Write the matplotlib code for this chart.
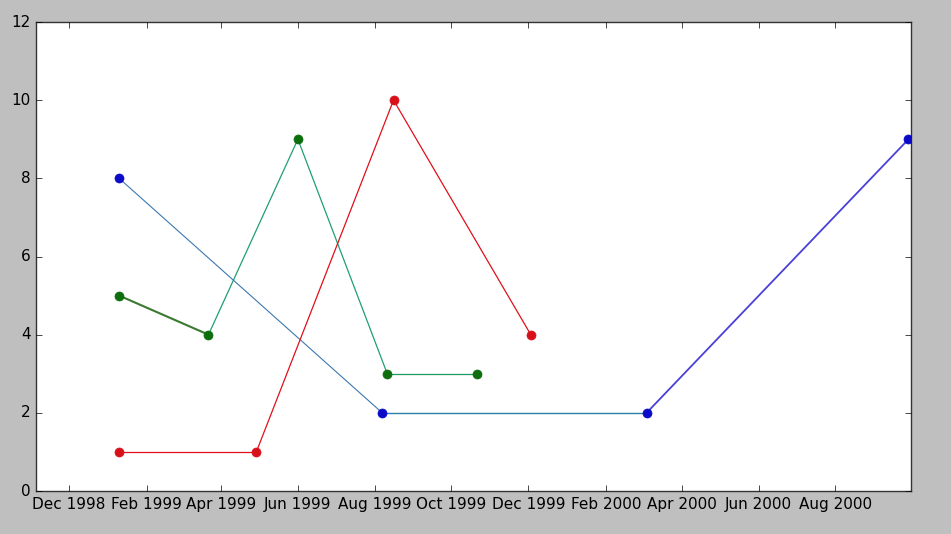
import matplotlib
matplotlib.use("Agg")
import matplotlib.pyplot as plt
import matplotlib.dates as mdates
import numpy as np

plt.style.use("classic")
plt.rcParams["font.family"] = ["DejaVu Sans"]

blue_dates = ["1999-01-10", "1999-08-07", "2000-03-04", "2000-09-28"]
blue_vals = [8, 2, 2, 9]
green_dates = ["1999-01-10", "1999-03-22", "1999-06-01", "1999-08-11", "1999-10-21"]
green_vals = [5, 4, 9, 3, 3]
red_dates = ["1999-01-10", "1999-04-29", "1999-08-16", "1999-12-03"]
red_vals = [1, 1, 10, 4]

series = [
    (blue_dates, blue_vals, "#0a0ac8", [("#3c78b0", 0.8), ("#2a7fa8", 1.0), ("#4a40d8", 1.3)]),
    (green_dates, green_vals, "#0c6e0c", [("#3a7a30", 1.5), ("#1fa070", 0.9), ("#1fa070", 0.9), ("#1f9a60", 0.9)]),
    (red_dates, red_vals, "#d8101a", [("#e0101a", 0.9)] * 3),
]

fig = plt.figure(figsize=(9.51, 5.34), dpi=100, facecolor="#bfbfbf")
ax = fig.add_axes([36 / 951, 43 / 534, 875 / 951, 469 / 534])

for dates, vals, mcol, segs in series:
    d = np.array(dates, dtype="datetime64[D]").astype("O")
    for i, (c, lw) in enumerate(segs):
        ax.plot(d[i:i + 2], vals[i:i + 2], color=c, lw=lw, zorder=2)
    ax.plot(d, vals, linestyle="none", marker="o", color=mcol, markersize=6.5,
            markeredgecolor=mcol, markeredgewidth=0.5, zorder=3)

ax.set_xlim(np.datetime64("1998-11-05").astype("O"), np.datetime64("2000-09-30").astype("O"))
ax.set_ylim(0, 12)
ax.xaxis.set_major_locator(mdates.MonthLocator(bymonth=[2, 4, 6, 8, 10, 12]))
ax.xaxis.set_major_formatter(mdates.DateFormatter("%b %Y"))
ax.tick_params(labelsize=11)
for s in ax.spines.values():
    s.set_color("#333333")

fig.savefig("out.png", dpi=100, facecolor=fig.get_facecolor())
